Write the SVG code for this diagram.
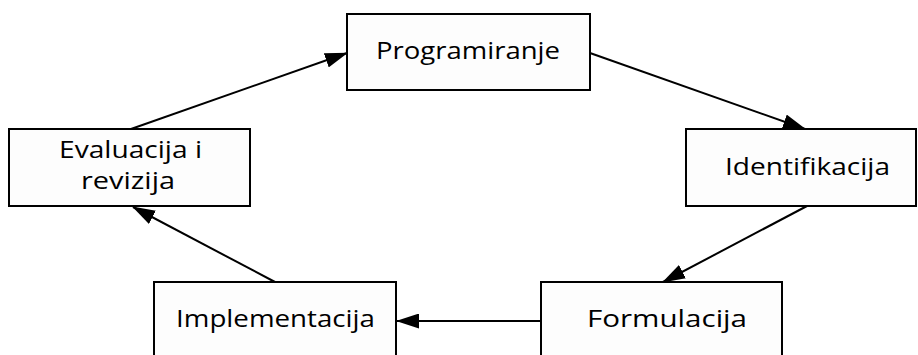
<svg xmlns="http://www.w3.org/2000/svg" width="918" height="355" viewBox="0 0 918 355">
<style>
.box{fill:#fdfdfd;stroke:#000;stroke-width:2}
.lbl{font-family:"Open Sans","DejaVu Sans",sans-serif;font-size:23px;fill:#000}
.conn{stroke:#000;stroke-width:2;fill:none;marker-end:url(#ah)}
</style>
<defs>
<marker id="ah" markerUnits="userSpaceOnUse" markerWidth="23" markerHeight="15" refX="22" refY="7.5" orient="auto" viewBox="0 0 23 15">
<path d="M0,0 L23,7.5 L0,15 z" fill="#000"/>
</marker>
</defs>
<rect width="918" height="355" fill="#fff"/>
<g id="connectors">
<path class="conn" d="M131,129 L347,53"/>
<path class="conn" d="M590,53 L805,129"/>
<path class="conn" d="M807,206 L663,282"/>
<path class="conn" d="M541,321 L397,321"/>
<path class="conn" d="M275,282 L133,207"/>
</g>
<g id="programiranje">
<rect class="box" x="347" y="14" width="243" height="76"/>
<text class="lbl" x="376" y="59" textLength="184" lengthAdjust="spacingAndGlyphs">Programiranje</text>
</g>
<g id="identifikacija">
<rect class="box" x="686" y="129" width="230" height="77"/>
<text class="lbl" x="725" y="175" textLength="165" lengthAdjust="spacingAndGlyphs">Identifikacija</text>
</g>
<g id="formulacija">
<rect class="box" x="541" y="282" width="241" height="80"/>
<text class="lbl" x="587" y="327" textLength="160" lengthAdjust="spacingAndGlyphs">Formulacija</text>
</g>
<g id="implementacija">
<rect class="box" x="154" y="282" width="242" height="80"/>
<text class="lbl" x="176" y="327" textLength="199" lengthAdjust="spacingAndGlyphs">Implementacija</text>
</g>
<g id="evaluacija">
<rect class="box" x="9" y="129" width="241" height="77"/>
<text class="lbl" x="59" y="158" textLength="143" lengthAdjust="spacingAndGlyphs">Evaluacija i</text>
<text class="lbl" x="81" y="189" textLength="94" lengthAdjust="spacingAndGlyphs">revizija</text>
</g>
</svg>
